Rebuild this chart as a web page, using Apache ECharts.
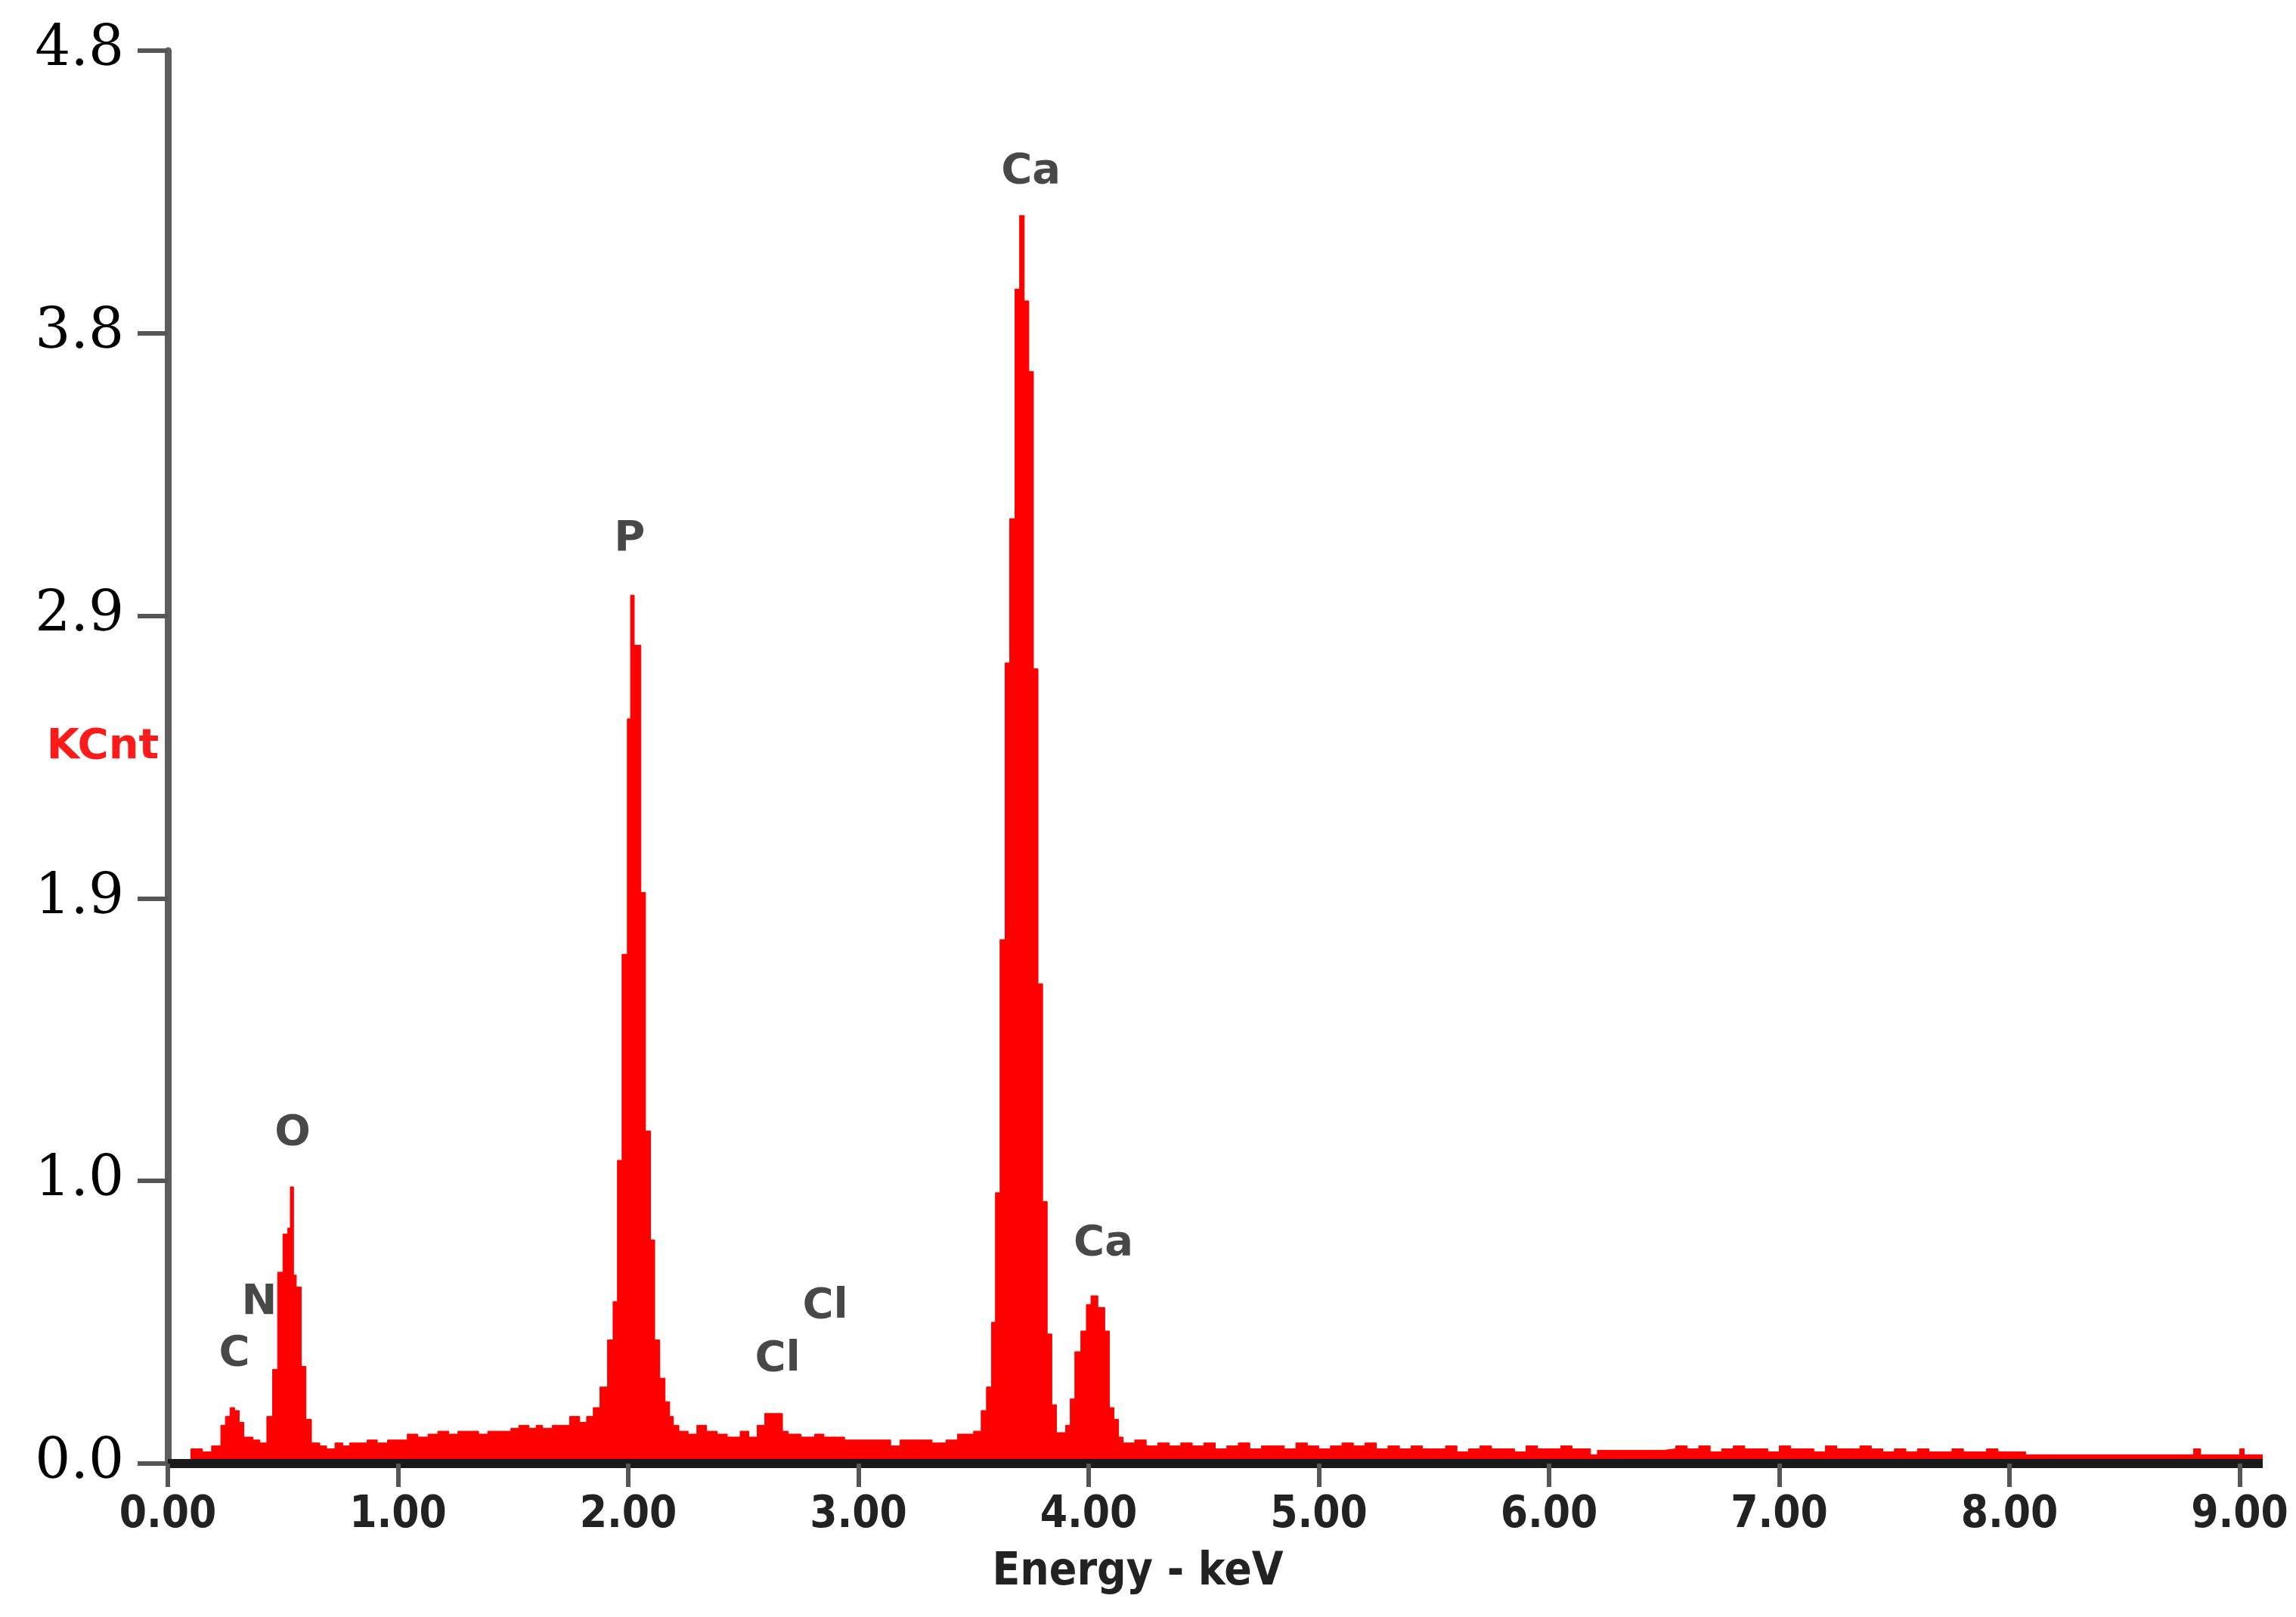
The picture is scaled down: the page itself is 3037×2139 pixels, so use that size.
<!DOCTYPE html>
<html lang="en">
<head>
<meta charset="UTF-8">
<title>EDS spectrum</title>
<script src="https://cdn.jsdelivr.net/npm/echarts@6.0.0/dist/echarts.min.js"></script>
<style>
  html, body { margin: 0; padding: 0; background: #fff; }
</style>
</head>
<body>
<div id="chart" style="width:3037px;height:2139px"></div>
<script>
// channel left edges (keV) and counts (KCnt)
var energy = [
  0.00, 0.10, 0.15, 0.19, 0.23, 0.25, 0.27, 0.29, 0.31, 0.33, 0.37, 0.40,
  0.43, 0.455, 0.477, 0.50, 0.521, 0.532, 0.546, 0.558, 0.58, 0.60, 0.624,
  0.66, 0.69, 0.726, 0.76, 0.79, 0.83, 0.866, 0.91, 0.954, 1.00, 1.04, 1.086,
  1.13, 1.173, 1.22, 1.26, 1.30, 1.35, 1.39, 1.45, 1.49, 1.525, 1.569, 1.60,
  1.628, 1.67, 1.70, 1.745, 1.789, 1.819, 1.848, 1.877, 1.91, 1.934, 1.953,
  1.973, 1.996, 2.010, 2.026, 2.055, 2.075, 2.097, 2.115, 2.137, 2.16, 2.18,
  2.196, 2.22, 2.26, 2.298, 2.34, 2.386, 2.43, 2.486, 2.524, 2.56, 2.593,
  2.67, 2.695, 2.75, 2.81, 2.85, 2.90, 2.94, 3.00, 3.06, 3.14, 3.18, 3.25,
  3.32, 3.38, 3.43, 3.50, 3.533, 3.556, 3.578, 3.595, 3.615, 3.637, 3.657,
  3.680, 3.70, 3.72, 3.74, 3.76, 3.78, 3.80, 3.82, 3.84, 3.86, 3.90, 3.92,
  3.94, 3.966, 3.99, 4.01, 4.04, 4.07, 4.09, 4.11, 4.13, 4.15,
  4.20, 4.25, 4.30, 4.35, 4.40, 4.45, 4.50, 4.55, 4.60, 4.65, 4.70, 4.75,
  4.80, 4.85, 4.90, 4.95, 5.00, 5.05, 5.10, 5.15, 5.20, 5.25, 5.30, 5.35,
  5.40, 5.45, 5.50, 5.55, 5.60, 5.65, 5.70, 5.75, 5.80, 5.85, 5.90, 5.95,
  6.00, 6.05, 6.10, 6.18, 6.21, 6.30, 6.40, 6.50, 6.55, 6.60, 6.65, 6.70,
  6.75, 6.80, 6.85, 6.90, 6.95, 7.00, 7.05, 7.10, 7.15, 7.20, 7.25, 7.30,
  7.35, 7.40, 7.45, 7.50, 7.55, 7.60, 7.65, 7.70, 7.75, 7.80, 7.85, 7.90,
  7.95, 8.00, 8.07, 8.80, 8.83, 9.00, 9.02, 9.10
];
var counts = [
  0.00, 0.05, 0.04, 0.06, 0.13, 0.16, 0.19, 0.18, 0.14, 0.09, 0.08, 0.07,
  0.16, 0.32, 0.65, 0.78, 0.80, 0.94, 0.64, 0.60, 0.33, 0.15, 0.07,
  0.06, 0.05, 0.07, 0.06, 0.07, 0.07, 0.08, 0.07, 0.08, 0.08, 0.10, 0.09,
  0.10, 0.11, 0.10, 0.11, 0.11, 0.10, 0.11, 0.11, 0.12, 0.13, 0.12, 0.13,
  0.12, 0.13, 0.13, 0.16, 0.14, 0.16, 0.19, 0.26, 0.42, 0.55, 1.03,
  1.73, 2.53, 2.95, 2.78, 1.94, 1.13, 0.76, 0.42, 0.29, 0.21, 0.16,
  0.13, 0.11, 0.10, 0.13, 0.11, 0.10, 0.09, 0.11, 0.09, 0.13, 0.17,
  0.11, 0.10, 0.09, 0.10, 0.09, 0.09, 0.08, 0.08, 0.08, 0.06, 0.08, 0.08,
  0.07, 0.08, 0.10, 0.11, 0.18, 0.26, 0.48, 0.92, 1.78, 2.72, 3.21,
  3.99, 4.24, 3.95, 3.71, 2.70, 1.63, 0.89, 0.44, 0.20, 0.105, 0.13, 0.22,
  0.38, 0.45, 0.54, 0.57, 0.53, 0.45, 0.19, 0.15, 0.09, 0.07,
  0.08, 0.06, 0.07, 0.06, 0.07, 0.06, 0.07, 0.05, 0.06, 0.07, 0.05, 0.06,
  0.06, 0.05, 0.07, 0.06, 0.05, 0.06, 0.07, 0.06, 0.07, 0.05, 0.06, 0.05,
  0.06, 0.05, 0.05, 0.06, 0.04, 0.05, 0.06, 0.05, 0.05, 0.04, 0.06, 0.05,
  0.05, 0.06, 0.05, 0.03, 0.045, 0.045, 0.045, 0.05, 0.06, 0.05, 0.06, 0.04,
  0.05, 0.06, 0.05, 0.05, 0.04, 0.06, 0.05, 0.05, 0.04, 0.06, 0.05, 0.05,
  0.06, 0.05, 0.04, 0.05, 0.04, 0.05, 0.04, 0.04, 0.05, 0.04, 0.04, 0.05,
  0.04, 0.04, 0.03, 0.05, 0.03, 0.05, 0.03, 0.03
];

// element labels: name, energy (keV), height (KCnt) of the label centre
var peakNames = ['C', 'N', 'O', 'P', 'Cl', 'Cl', 'Ca', 'Ca'];
var peakEnergy = [0.289, 0.397, 0.542, 2.006, 2.649, 2.856, 3.749, 4.064];
var peakHeight = [0.370, 0.547, 1.120, 3.141, 0.354, 0.534, 4.389, 0.745];

var xTicks = [0, 1, 2, 3, 4, 5, 6, 7, 8, 9];

var spectrum = energy.map(function (e, i) { return [e, counts[i]]; });
var labels = peakNames.map(function (n, i) {
  return { name: n, value: [peakEnergy[i], peakHeight[i]] };
});

var chart = echarts.init(document.getElementById('chart'));

var option = {
  animation: false,
  backgroundColor: '#ffffff',
  grid: {
    left: 222,
    right: 44,
    top: 67,
    bottom: 203,
    outerBoundsMode: 'none'
  },
  xAxis: {
    type: 'value',
    min: 0,
    max: 9.1,
    interval: 1,
    z: 3,
    splitLine: { show: false },
    axisLine: { lineStyle: { color: '#181b1b', width: 12, cap: 'butt' } },
    axisTick: {
      customValues: xTicks,
      length: 31,
      lineStyle: { color: '#555', width: 6 }
    },
    axisLabel: {
      customValues: xTicks,
      margin: 40,
      color: '#222',
      fontFamily: "'DejaVu Sans Condensed', 'DejaVu Sans'",
      fontWeight: 'bold',
      fontSize: 58,
      formatter: function (v) { return v.toFixed(2); }
    }
  },
  yAxis: {
    type: 'value',
    min: 0,
    max: 4.8,
    interval: 0.96,
    z: 3,
    splitLine: { show: false },
    axisLine: { show: true, lineStyle: { color: '#5e5e5e', width: 9 } },
    axisTick: { show: true, length: 40, lineStyle: { color: '#555', width: 6 } },
    axisLabel: {
      margin: 58,
      color: '#000',
      fontFamily: "'DejaVu Serif'",
      fontSize: 74,
      formatter: function (v) { return v.toFixed(1); }
    }
  },
  graphic: [
    {
      type: 'text',
      x: 136, y: 988,
      style: {
        text: 'KCnt',
        fill: '#ff1a1a',
        font: "bold 56px 'DejaVu Sans'",
        textAlign: 'center',
        textVerticalAlign: 'middle'
      }
    },
    {
      type: 'text',
      x: 1505, y: 2080,
      style: {
        text: 'Energy - keV',
        fill: '#222',
        font: "bold 60px 'DejaVu Sans Condensed', 'DejaVu Sans'",
        textAlign: 'center',
        textVerticalAlign: 'middle'
      }
    }
  ],
  series: [
    {
      type: 'line',
      step: 'end',
      data: spectrum,
      symbol: 'none',
      lineStyle: { color: '#ff0000', width: 1 },
      areaStyle: { color: '#ff0000', opacity: 1 },
      z: 2
    },
    {
      type: 'scatter',
      data: labels,
      symbolSize: 0,
      z: 4,
      label: {
        show: true,
        position: 'inside',
        formatter: '{b}',
        color: '#1a1a1a',
        fontFamily: "'DejaVu Sans'",
        fontWeight: 'bold',
        fontSize: 56
      }
    }
  ]
};

chart.setOption(option);
</script>
</body>
</html>
